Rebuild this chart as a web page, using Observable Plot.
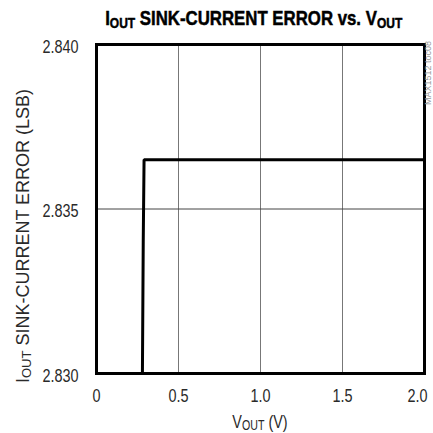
<!DOCTYPE html>
<html>
<head>
<meta charset="utf-8">
<script src="https://cdn.jsdelivr.net/npm/d3@7"></script>
<script src="https://cdn.jsdelivr.net/npm/@observablehq/plot@0.6"></script>
<style>
  html, body { margin: 0; padding: 0; background: #fff; }
  #wrap { position: relative; width: 433px; height: 433px; overflow: hidden; }
  #title { position: relative; width: 433px; height: 28px; }
  #title .t {
    position: absolute; left: 0; width: 508px; top: 7px; text-align: center;
    font-family: "Liberation Sans", Arial, sans-serif;
    font-weight: bold; font-size: 21px; line-height: 21px; color: #000; white-space: nowrap;
    -webkit-text-stroke: 0.5px #000;
  }
  #title .t span { display: inline-block; transform: scaleX(0.8); transform-origin: 50% 50%; }
  #title sub { font-size: 15px; vertical-align: baseline; position: relative; top: 3px; }
  svg { display: block; }
</style>
</head>
<body>
<div id="wrap">
  <div id="title"><div class="t"><span>I<sub>OUT</sub> SINK-CURRENT ERROR vs. V<sub>OUT</sub></span></div></div>
  <div id="chart"></div>
</div>
<script>
const xTicks = [0, 0.5, 1.0, 1.5, 2.0];
const yTicks = [2.830, 2.835, 2.840];
const voutV = [0.28, 0.285, 0.29, 2.0];
const errorLSB = [2.830, 2.834, 2.8365, 2.8365];

const data = voutV.map((v, i) => ({v, e: errorLSB[i]}));
const FONT = '"Liberation Sans", Arial, sans-serif';

const plot = Plot.plot({
  width: 433,
  height: 405,
  marginTop: 16,
  marginLeft: 96,
  marginRight: 9,
  marginBottom: 60,
  style: {fontFamily: FONT, background: "#fff"},
  x: {domain: [0, 2], label: null},
  y: {domain: [2.830, 2.840], label: null},
  marks: [
    Plot.gridX(xTicks.slice(1, -1), {stroke: "#777", strokeOpacity: 1, strokeWidth: 1}),
    Plot.gridY(yTicks.slice(1, -1), {stroke: "#444", strokeOpacity: 1, strokeWidth: 1}),
    Plot.axisX(xTicks, {tickSize: 0, tickPadding: 15, fontSize: 19, fill: "#2a2a2a",
      tickFormat: d => d === 0 ? "0" : d.toFixed(1), label: null}),
    Plot.axisY(yTicks, {tickSize: 0, tickPadding: 18, dy: 2, fontSize: 19, fill: "#2a2a2a",
      tickFormat: d => d.toFixed(3), label: null}),
    Plot.line(data, {x: "v", y: "e", stroke: "#000", strokeWidth: 3, strokeLinejoin: "miter"}),
    Plot.frame({stroke: "#000", strokeWidth: 3})
  ]
});
document.getElementById("chart").appendChild(plot);

const svg = d3.select(plot);
// condense tick label glyphs horizontally (mimic a condensed face)
svg.selectAll('g[aria-label$="tick label"] text').each(function () {
  const t = this.getAttribute("transform") || "";
  this.setAttribute("transform", `${t} scale(0.76,1)`);
});
// nudge the last x tick label inward, as in the reference
const xLabels = svg.selectAll('g[aria-label="x-axis tick label"] text').nodes();
if (xLabels.length) {
  const last = xLabels[xLabels.length - 1];
  last.setAttribute("transform", `translate(-7,0) ${last.getAttribute("transform")}`);
}

// x axis label
const xl = svg.append("text")
  .attr("transform", "translate(260,400) scale(0.76,1)")
  .attr("text-anchor", "middle")
  .style("font-family", FONT).style("font-size", "19px").attr("fill", "#2a2a2a");
xl.append("tspan").text("V");
xl.append("tspan").text("OUT").style("font-size", "14px").attr("dy", 2);
xl.append("tspan").text(" (V)").attr("dy", -2);

// y axis label
const yl = svg.append("text")
  .attr("transform", "translate(29,208) rotate(-90)")
  .attr("text-anchor", "middle")
  .style("font-family", FONT).style("font-size", "18px").attr("fill", "#2a2a2a");
yl.append("tspan").text("I");
yl.append("tspan").text("OUT").style("font-size", "13px").attr("dy", 2);
yl.append("tspan").text(" SINK-CURRENT ERROR (LSB)").attr("dy", -2);

// side code
svg.append("text")
  .attr("transform", "translate(431,77) rotate(-90)")
  .attr("text-anchor", "start")
  .style("font-family", FONT).style("font-size", "9px").attr("fill", "#999")
  .text("MAX1512 toc08");
</script>
</body>
</html>
